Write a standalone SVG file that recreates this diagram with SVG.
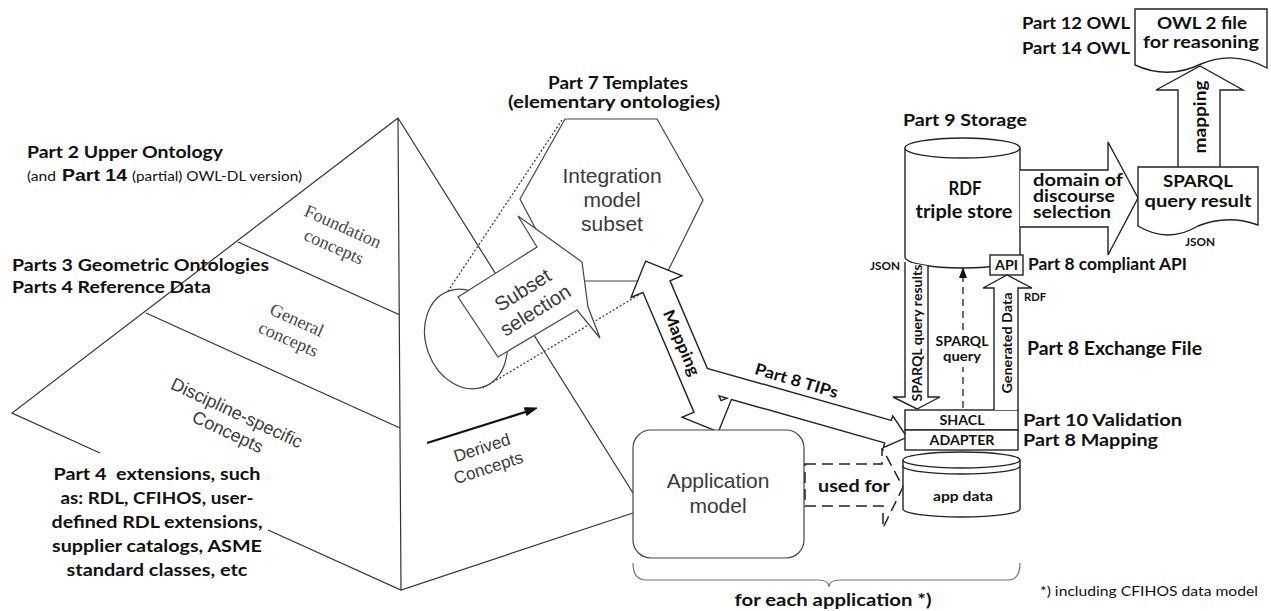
<svg xmlns="http://www.w3.org/2000/svg" width="1271" height="611" viewBox="0 0 1271 611">
<style>
.b{font-family:Lato,"Liberation Sans",sans-serif;font-weight:700;fill:#111}
.r{font-family:Lato,"Liberation Sans",sans-serif;fill:#111}
.h{font-family:"Liberation Sans",Arial,sans-serif;fill:#3a3a3a}
.s{font-family:"Liberation Serif","Times New Roman",serif;fill:#444}
.pl{fill:none;stroke:#333;stroke-width:1.2}
.ln{fill:none;stroke:#222;stroke-width:1.4}
.bx{fill:#fff;stroke:#222;stroke-width:1.4}
.g{fill:#fff;stroke:#444;stroke-width:1.2}
.dot{fill:none;stroke:#333;stroke-width:1.2;stroke-dasharray:2 2}
.dash{fill:none;stroke:#222;stroke-width:1.5;stroke-dasharray:11 6}
.m{text-anchor:middle}
</style>
<rect width="1271" height="611" fill="#fff"/>

<g id="pyramid">
<path class="pl" d="M398,118 L12,413 L100,453 M268,530 L401,590 L633,513 M398,118 L401,590 M398,118 L633,493 M238,242 L400,315 M146,313 L400,428"/>
<g transform="translate(338.5,236.5) rotate(24)"><text class="s m" font-size="18" y="-5">Foundation</text><text class="s m" font-size="18" y="17">concepts</text></g>
<g transform="translate(293,329) rotate(24)"><text class="s m" font-size="18" y="-4">General</text><text class="s m" font-size="18" y="17">concepts</text></g>
<g transform="translate(232.5,422) rotate(25)"><text class="h m" font-size="18" y="-4" fill="#444">Discipline-specific</text><text class="h m" font-size="18" y="17">Concepts</text></g>
<line x1="427" y1="443" x2="527" y2="411.5" stroke="#111" stroke-width="2.2"/>
<polygon points="537,408 526.8,415.4 524.4,407.8" fill="#111" stroke="#111" stroke-width="1"/>
<g transform="translate(485,457) rotate(-18)"><text class="h m" font-size="17" y="-4">Derived</text><text class="h m" font-size="17" y="17">Concepts</text></g>
</g>

<g id="projection-lines">
<line class="dot" x1="562" y1="120" x2="448" y2="291"/>
<line class="dot" x1="642" y1="293" x2="483" y2="388"/>
</g>

<g id="integration-model">
<polygon class="g" points="565,119 657,119 703,200 663,281 563,281 520,199"/>
<text class="h m" font-size="21" x="612" y="183">Integration</text>
<text class="h m" font-size="21" x="612" y="207">model</text>
<text class="h m" font-size="21" x="612" y="231">subset</text>
</g>

<g id="subset-selection">
<ellipse class="g" cx="466" cy="339" rx="40" ry="51" transform="rotate(-20 466 339)"/>
<polygon class="g" points="458,297 537,247 518,216 582,262 588,307 600,338 577,310 498,357"/>
<g transform="translate(529,300) rotate(-32)"><text class="h m" font-size="20" y="-5">Subset</text><text class="h m" font-size="20" y="19">selection</text></g>
</g>

<g id="mapping-tips">
<polygon points="646,262 680.1,275.7 669.1,280.4 720.7,401.6 731.7,396.9 718,431 683.9,417.3 694.9,412.6 643.3,291.4 632.3,296.1" fill="none" stroke="#222" stroke-width="2.8"/>
<polygon points="698.1,366.5 891.8,421.3 893,417.5 906,437 884.5,446.3 885.6,442.4 691.9,387.5" fill="none" stroke="#222" stroke-width="2.8"/>
<polygon points="646,262 680.1,275.7 669.1,280.4 720.7,401.6 731.7,396.9 718,431 683.9,417.3 694.9,412.6 643.3,291.4 632.3,296.1" fill="#fff"/>
<polygon points="698.1,366.5 891.8,421.3 893,417.5 906,437 884.5,446.3 885.6,442.4 691.9,387.5" fill="#fff"/>
<text class="b m" font-size="16" transform="translate(681,343) rotate(66.9)" y="5" textLength="70" lengthAdjust="spacingAndGlyphs">Mapping</text>
<text class="b m" font-size="16" transform="translate(795,386) rotate(16.5)" textLength="86" lengthAdjust="spacingAndGlyphs">Part 8 TIPs</text>
</g>

<g id="application-model">
<rect class="g" x="633" y="430" width="171" height="128" rx="18"/>
<text class="h m" font-size="21" x="718" y="488">Application</text>
<text class="h m" font-size="21" x="718" y="513">model</text>
</g>

<g id="used-for">
<polygon class="dash" points="805,464 882,464 882,448 903,487 883,528 883,506 805,506"/>
<text class="b" font-size="17" x="818" y="492" textLength="72" lengthAdjust="spacingAndGlyphs">used for</text>
</g>

<g id="app-data">
<path class="bx" d="M903,460 V509 A58.5,8 0 0 0 1020,509 V460"/>
<ellipse class="bx" cx="961.5" cy="460" rx="58.5" ry="8"/>
<path class="ln" d="M903,466 A58.5,8 0 0 0 1020,466"/>
<text class="b m" font-size="14" x="963" y="501" textLength="60" lengthAdjust="spacingAndGlyphs">app data</text>
</g>

<g id="shacl-adapter">
<rect class="bx" x="905" y="410" width="113" height="20"/>
<rect class="bx" x="905" y="430" width="113" height="20"/>
<text class="b m" font-size="14" x="962" y="425" textLength="45" lengthAdjust="spacingAndGlyphs">SHACL</text>
<text class="b m" font-size="14" x="962" y="445" textLength="65" lengthAdjust="spacingAndGlyphs">ADAPTER</text>
<text class="b" font-size="17.5" x="1023" y="426" textLength="159" lengthAdjust="spacingAndGlyphs">Part 10 Validation</text>
<text class="b" font-size="17.5" x="1023" y="446" textLength="135" lengthAdjust="spacingAndGlyphs">Part 8 Mapping</text>
</g>

<g id="rdf-store">
<path class="bx" d="M905,148 V257 A57.5,11 0 0 0 1020,257 V148"/>
<ellipse class="bx" cx="962.5" cy="148" rx="57.5" ry="10"/>
<text class="b m" font-size="18" x="965" y="195" textLength="33" lengthAdjust="spacingAndGlyphs">RDF</text>
<text class="b m" font-size="18" x="964" y="218" textLength="97" lengthAdjust="spacingAndGlyphs">triple store</text>
<text class="b" font-size="17.5" x="903" y="126" textLength="124" lengthAdjust="spacingAndGlyphs">Part 9 Storage</text>
</g>

<g id="api">
<rect class="bx" x="990" y="255" width="33" height="20"/>
<text class="b m" font-size="14" x="1006.5" y="270" textLength="23" lengthAdjust="spacingAndGlyphs">API</text>
<text class="b" font-size="17" x="1028" y="270" textLength="159" lengthAdjust="spacingAndGlyphs">Part 8 compliant API</text>
</g>

<g id="connectors">
<path class="bx" d="M905,262 V397 H893 L917,409 L940,397 H928 V266"/>
<text class="b m" font-size="14" transform="translate(917,333) rotate(-90)" y="5" textLength="137" lengthAdjust="spacingAndGlyphs">SPARQL query results</text>
<text class="b m" font-size="10.5" x="885" y="270" textLength="30" lengthAdjust="spacingAndGlyphs">JSON</text>
<line x1="963" y1="408" x2="963" y2="367" stroke="#222" stroke-width="1.3" stroke-dasharray="7 5"/>
<line x1="963" y1="330" x2="963" y2="276" stroke="#222" stroke-width="1.3" stroke-dasharray="7 5"/>
<polygon points="963,267 959,278 967,278" fill="#111"/>
<text class="b m" font-size="14" x="962" y="346" textLength="53" lengthAdjust="spacingAndGlyphs">SPARQL</text>
<text class="b m" font-size="14" x="962" y="361" textLength="38" lengthAdjust="spacingAndGlyphs">query</text>
<path class="bx" d="M994,410 V288 H983 L1007,275 L1032,288 H1018 V410"/>
<text class="b m" font-size="14" transform="translate(1007,343) rotate(-90)" y="5" textLength="101" lengthAdjust="spacingAndGlyphs">Generated Data</text>
<text class="b" font-size="11.5" x="1024" y="301" textLength="22" lengthAdjust="spacingAndGlyphs">RDF</text>
<text class="b" font-size="18" x="1027" y="355" textLength="175" lengthAdjust="spacingAndGlyphs">Part 8 Exchange File</text>
<path class="bx" d="M1020,170 H1108 V142 L1138,198 L1108,255 V227 H1020"/>
<text class="b" font-size="16.5" x="1033" y="186" textLength="90" lengthAdjust="spacingAndGlyphs">domain of</text>
<text class="b" font-size="16.5" x="1033" y="202" textLength="82" lengthAdjust="spacingAndGlyphs">discourse</text>
<text class="b" font-size="16.5" x="1033" y="218" textLength="78" lengthAdjust="spacingAndGlyphs">selection</text>
<path class="bx" d="M1178,168 V90 H1156 L1200,66 L1243,90 H1220 V168"/>
<text class="b m" font-size="17" transform="translate(1200,117) rotate(-90)" y="6" textLength="73" lengthAdjust="spacingAndGlyphs">mapping</text>
</g>

<g id="sparql-result">
<path class="bx" d="M1138,167 H1258 V225 Q1228,214 1198,226 Q1168,244 1138,226 Z"/>
<text class="b m" font-size="17" x="1198" y="187" textLength="70" lengthAdjust="spacingAndGlyphs">SPARQL</text>
<text class="b m" font-size="17" x="1198" y="207" textLength="107" lengthAdjust="spacingAndGlyphs">query result</text>
<text class="b m" font-size="10.5" x="1200" y="246" textLength="30" lengthAdjust="spacingAndGlyphs">JSON</text>
</g>

<g id="owl-file">
<path class="bx" d="M1135,9 H1267 V68 Q1234,50 1201,64 Q1168,80 1135,65 Z"/>
<text class="b m" font-size="17.5" x="1202" y="29" textLength="90" lengthAdjust="spacingAndGlyphs">OWL 2 file</text>
<text class="b m" font-size="17.5" x="1201" y="48" textLength="116" lengthAdjust="spacingAndGlyphs">for reasoning</text>
<text class="b" font-size="17.5" x="1022" y="29" textLength="108" lengthAdjust="spacingAndGlyphs">Part 12 OWL</text>
<text class="b" font-size="17.5" x="1022" y="54" textLength="108" lengthAdjust="spacingAndGlyphs">Part 14 OWL</text>
</g>

<g id="left-labels">
<text class="b" font-size="17" x="27" y="158" textLength="196" lengthAdjust="spacingAndGlyphs">Part 2 Upper Ontology</text>
<text class="r" font-size="13.5" x="27" y="181" textLength="29" lengthAdjust="spacingAndGlyphs">(and</text>
<text font-family="'Liberation Sans',Arial,sans-serif" font-weight="700" fill="#111" font-size="17" x="62" y="181" textLength="65" lengthAdjust="spacingAndGlyphs">Part 14</text>
<text class="r" font-size="13.5" x="132" y="181" textLength="170" lengthAdjust="spacingAndGlyphs">(partial) OWL-DL version)</text>
<text class="b" font-size="17.5" x="12" y="271" textLength="257" lengthAdjust="spacingAndGlyphs">Parts 3 Geometric Ontologies</text>
<text class="b" font-size="17.5" x="12" y="293" textLength="199" lengthAdjust="spacingAndGlyphs">Parts 4 Reference Data</text>
<text class="b m" font-size="17" x="157" y="480" textLength="207" lengthAdjust="spacingAndGlyphs" xml:space="preserve">Part 4  extensions, such</text>
<text class="b m" font-size="17" x="157" y="504" textLength="193" lengthAdjust="spacingAndGlyphs">as: RDL, CFIHOS, user-</text>
<text class="b m" font-size="17" x="157" y="528" textLength="211" lengthAdjust="spacingAndGlyphs">defined RDL extensions,</text>
<text class="b m" font-size="17" x="157" y="552" textLength="210" lengthAdjust="spacingAndGlyphs">supplier catalogs, ASME</text>
<text class="b m" font-size="17" x="157" y="576" textLength="181" lengthAdjust="spacingAndGlyphs">standard classes, etc</text>
<text class="b m" font-size="16.5" x="618" y="89" textLength="140" lengthAdjust="spacingAndGlyphs">Part 7 Templates</text>
<text class="b m" font-size="16.5" x="614" y="108" textLength="212" lengthAdjust="spacingAndGlyphs">(elementary ontologies)</text>
</g>

<g id="brace">
<path d="M633,563 Q633,580 646,580 H818 Q829,580 829,587 Q829,580 840,580 H1008 Q1020,580 1020,563" fill="none" stroke="#777" stroke-width="1.2"/>
<text class="b m" font-size="17.5" x="833" y="606" textLength="197" lengthAdjust="spacingAndGlyphs">for each application *)</text>
<text class="r" font-size="14" x="1040" y="596" textLength="218" lengthAdjust="spacingAndGlyphs">*) including CFIHOS data model</text>
</g>
</svg>
